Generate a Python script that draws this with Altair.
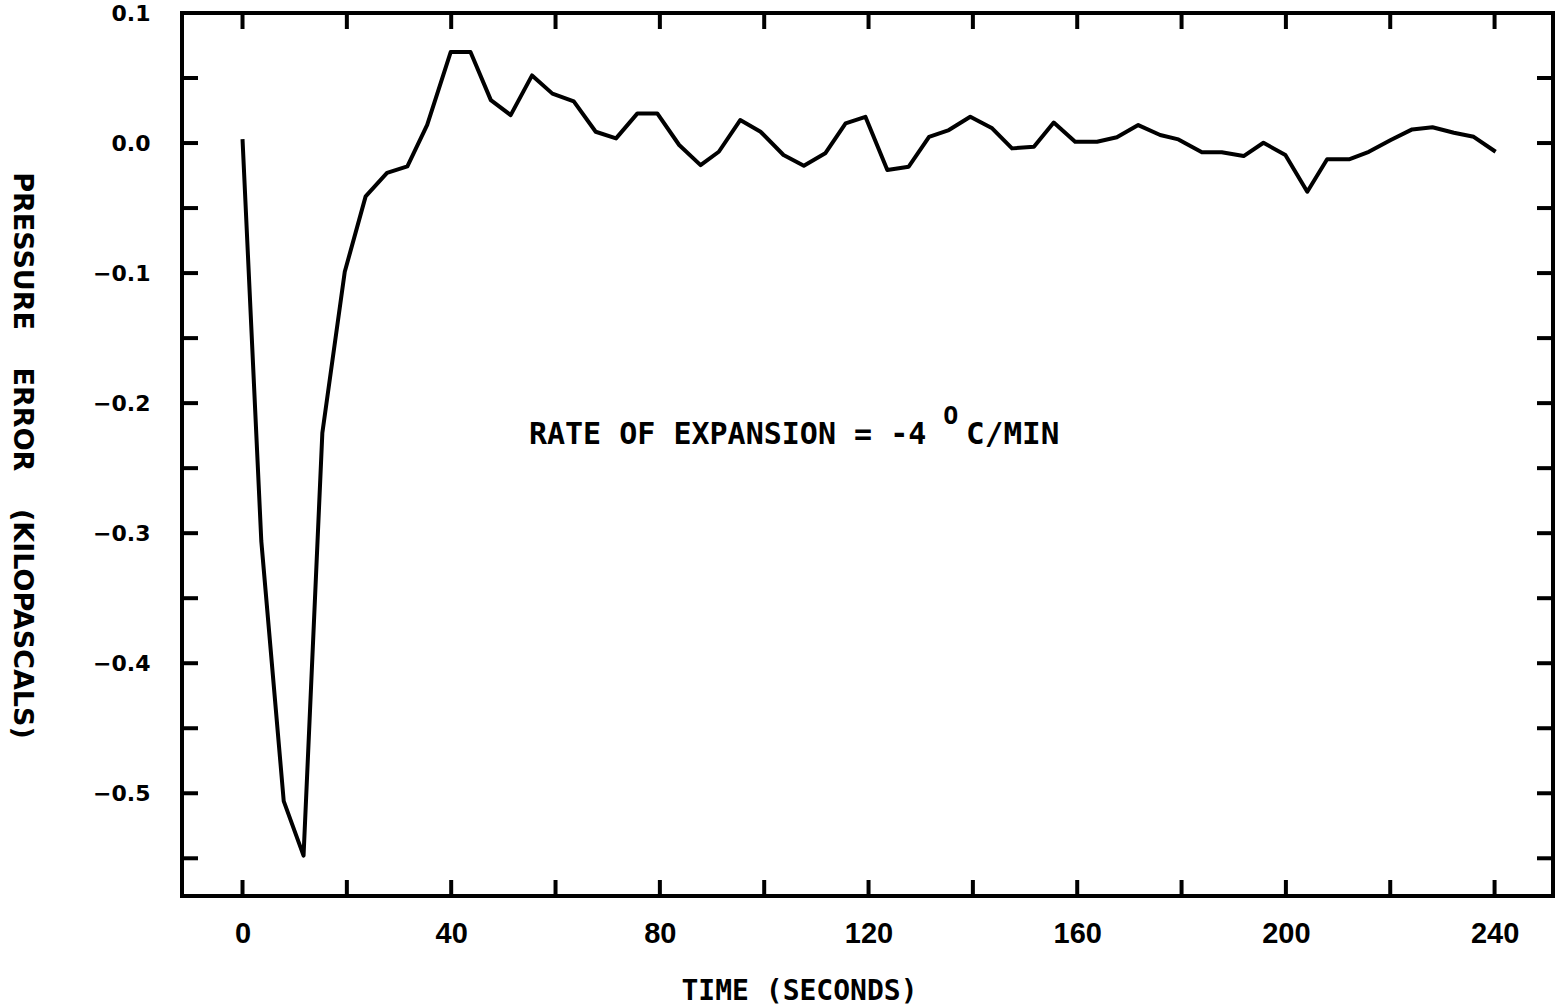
import altair as alt
import pandas as pd

# ---- data ----
time_s = [0, 3.6, 7.9, 11.7, 15.3, 19.6, 23.6, 27.7, 31.6, 35.4, 39.9, 43.7, 47.6,
          51.4, 55.5, 59.4, 63.5, 67.7, 71.6, 75.7, 79.5, 83.7, 87.8, 91.3, 95.4,
          99.3, 103.7, 107.6, 111.7, 115.6, 119.4, 123.6, 127.7, 131.6, 135.4,
          139.5, 143.7, 147.5, 151.7, 155.5, 159.6, 163.8, 167.6, 171.7, 175.9,
          179.4, 183.9, 187.7, 191.9, 195.7, 199.9, 204.1, 207.9, 212.1, 215.9,
          220.1, 224.2, 228.1, 232.2, 236.0, 240.2]
pressure_err = [0.003, -0.306, -0.506, -0.548, -0.223, -0.099, -0.041, -0.023, -0.018,
                0.014, 0.070, 0.070, 0.033, 0.0215, 0.052, 0.038, 0.032, 0.0087, 0.0036,
                0.0228, 0.0228, -0.0015, -0.017, -0.0067, 0.0177, 0.0087, -0.0092,
                -0.0174, -0.0079, 0.0151, 0.0202, -0.0208, -0.0182, 0.0048, 0.010,
                0.0202, 0.0113, -0.0041, -0.0028, 0.0158, 0.001, 0.001, 0.0044, 0.0138,
                0.0062, 0.0028, -0.0071, -0.0071, -0.010, 0.0002, -0.0092, -0.0374,
                -0.0125, -0.0125, -0.0067, 0.0023, 0.0105, 0.0121, 0.0079, 0.0048,
                -0.0067]

x_tick_values = [0, 20, 40, 60, 80, 100, 120, 140, 160, 180, 200, 220, 240]
x_label_values = [0, 40, 80, 120, 160, 200, 240]
y_tick_values = [0.1, 0.05, 0.0, -0.05, -0.1, -0.15, -0.2, -0.25, -0.3, -0.35,
                 -0.4, -0.45, -0.5, -0.55]
y_label_values = [0.1, 0.0, -0.1, -0.2, -0.3, -0.4, -0.5]

annot_texts = ["RATE OF EXPANSION = -4", "O", "C/MIN"]
annot_t = [54.9, 134.3, 138.7]
annot_v = [-0.2315, -0.216, -0.2315]
annot_size = [30, 25, 31]

X_DOMAIN = [-11.6, 251.2]
Y_DOMAIN = [-0.579, 0.1]
W, H = 1371, 883

df = pd.DataFrame({"t": time_s, "v": pressure_err})
xt = pd.DataFrame({"t": x_tick_values})
yt = pd.DataFrame({"v": y_tick_values})
ann = pd.DataFrame({"t": annot_t, "v": annot_v, "txt": annot_texts, "s": annot_size})

xscale = alt.Scale(domain=X_DOMAIN, nice=False, zero=False)
yscale = alt.Scale(domain=Y_DOMAIN, nice=False, zero=False)

mono = "DejaVu Sans Mono"
nb = "\u00a0\u00a0\u00a0\u00a0"

line = alt.Chart(df).mark_line(color="black", strokeWidth=4, strokeJoin="round").encode(
    x=alt.X("t:Q", scale=xscale,
            axis=alt.Axis(values=x_label_values, format="d", ticks=False, domain=False,
                          grid=False, labelPadding=23, labelFontSize=29,
                          labelFont="Liberation Sans",
                          labelFontWeight="bold", labelColor="black",
                          title="TIME (SECONDS)", titleFont=mono, titleFontSize=28,
                          titleFontWeight="bold", titleColor="black",
                          titleX=617, titleY=103, titleBaseline="alphabetic",
                          titleAlign="center")),
    y=alt.Y("v:Q", scale=yscale,
            axis=alt.Axis(values=y_label_values, format=".1f", ticks=False, domain=False,
                          grid=False, labelPadding=32, labelFontSize=22,
                          labelFont="DejaVu Sans", labelFontWeight="bold",
                          labelColor="black",
                          title="PRESSURE" + nb + "ERROR" + nb + "(KILOPASCALS)",
                          titleFont="DejaVu Sans", titleFontSize=27,
                          titleFontWeight="bold", titleColor="black",
                          titleAngle=90, titleX=-161, titleY=442,
                          titleBaseline="middle", titleAlign="center")),
)

tl = 16
xb = alt.Chart(xt).mark_rule(color="black", strokeWidth=4).encode(
    x=alt.X("t:Q", scale=xscale), y=alt.value(H), y2=alt.value(H - tl))
xtop = alt.Chart(xt).mark_rule(color="black", strokeWidth=4).encode(
    x=alt.X("t:Q", scale=xscale), y=alt.value(0), y2=alt.value(tl))
yl = alt.Chart(yt).mark_rule(color="black", strokeWidth=4).encode(
    y=alt.Y("v:Q", scale=yscale), x=alt.value(0), x2=alt.value(tl))
yr = alt.Chart(yt).mark_rule(color="black", strokeWidth=4).encode(
    y=alt.Y("v:Q", scale=yscale), x=alt.value(W), x2=alt.value(W - tl))

text = alt.Chart(ann).mark_text(align="left", baseline="alphabetic", font=mono,
                                fontWeight="bold", color="black").encode(
    x=alt.X("t:Q", scale=xscale), y=alt.Y("v:Q", scale=yscale), text="txt:N",
    size=alt.Size("s:Q", scale=None, legend=None))

chart = alt.layer(line, xb, xtop, yl, yr, text).properties(
    width=W, height=H,
    autosize=alt.AutoSizeParams(type="none"),
    padding={"left": 182, "top": 13, "right": 9, "bottom": 110},
    background="white",
).configure_view(stroke="black", strokeWidth=4)

chart.save("out.html", embed_options={"renderer": "svg", "actions": False})
